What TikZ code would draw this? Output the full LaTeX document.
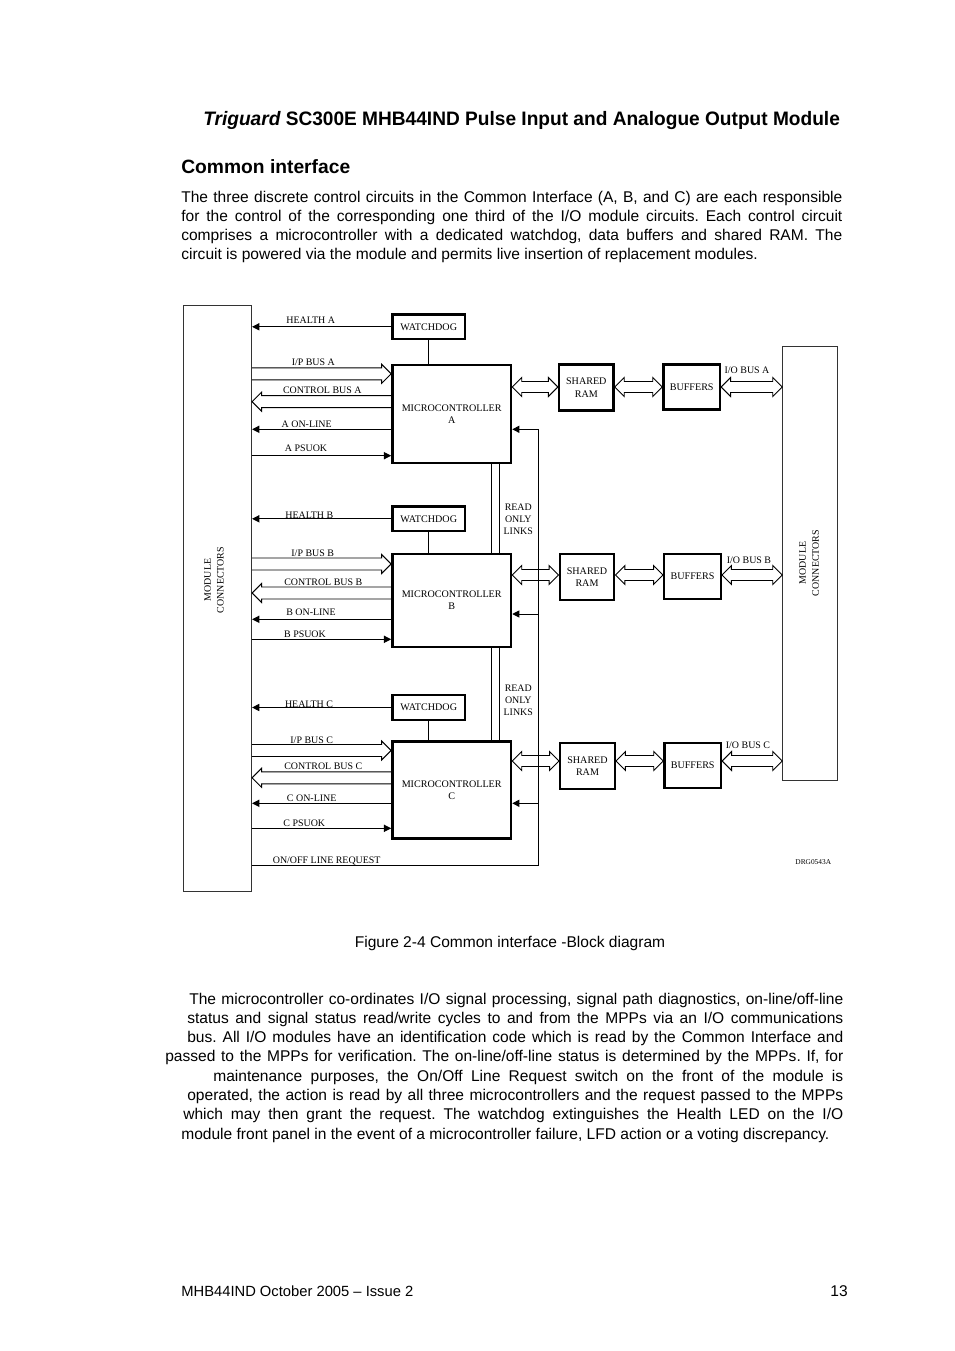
\documentclass[tikz,border=0pt]{standalone}
\usepackage{graphicx}
\usepackage{fontspec}
\setmainfont{Liberation Sans}
\newfontfamily\drgfont{Liberation Serif}
\usepackage{tikz}
\usetikzlibrary{positioning,arrows.meta,calc}
\frenchspacing

\newcommand{\pxu}{0.6237pt}
% hollow one-way bus arrow: tail, tip, head offset
\newcommand{\busarrow}[3]{%
  \draw[bus] ($(#1)+(0,-6)$) -- ($(#2)+(#3,-6)$) -- ($(#2)+(#3,-9.5)$) -- (#2)
    -- ($(#2)+(#3,9.5)$) -- ($(#2)+(#3,6)$) -- ($(#1)+(0,6)$);}
% hollow two-way bus arrow between two tips
\newcommand{\dbusarrow}[2]{%
  \draw[bus] (#1) -- ($(#1)+(9.5,-9.5)$) -- ($(#1)+(9.5,-5.5)$) -- ($(#2)+(-9.5,-5.5)$)
    -- ($(#2)+(-9.5,-9.5)$) -- (#2) -- ($(#2)+(-9.5,9.5)$) -- ($(#2)+(-9.5,5.5)$)
    -- ($(#1)+(9.5,5.5)$) -- ($(#1)+(9.5,9.5)$) -- cycle;}

\begin{document}
\begin{tikzpicture}[
    x=0.6237pt, y=-0.6237pt,
    box/.style={
        rectangle,
        draw,
        line width=1.5pt,
        align=center,
        inner sep=0pt,
        font=\drgfont\fontsize{6.3}{7.7}\selectfont
    },
    watchdog/.style={box, minimum width=72.7*\pxu, minimum height=24.5*\pxu},
    micro/.style={box, minimum width=118.7*\pxu},
    ram/.style={box, minimum width=54.5*\pxu, minimum height=46*\pxu},
    buffer/.style={box, minimum width=56.5*\pxu, minimum height=45*\pxu},
    conn/.style={rectangle, draw=black!80, line width=0.5pt, inner sep=0pt},
    lbl/.style={inner sep=0pt, align=center, font=\drgfont\fontsize{6.2}{7.5}\selectfont},
    sig/.style={line width=0.6pt},
    arrow/.style={sig, -{Triangle[length=4.5pt, width=4.5pt]}},
    bus/.style={line width=0.6pt, line join=miter},
    body/.style={anchor=base west, inner sep=0pt, font=\fontsize{9.7}{11.85}\selectfont}
]
\useasboundingbox (0,0) rectangle (954,1351);

% page text
\node[anchor=base west, inner sep=0pt] (title) at (203,126)
    {\resizebox{397pt}{8.8pt}{\fontsize{12}{14}\selectfont\bfseries{\itshape Triguard} SC300E MHB44IND Pulse Input and Analogue Output Module}};
\node[anchor=base west, inner sep=0pt, font=\fontsize{12}{14}\selectfont\bfseries] (head) at (181,174) {Common interface};
\node[body] (p1a) at (181,203) {\makebox[412.3pt][s]{The three discrete control circuits in the Common Interface (A, B, and C) are each responsible}};
\node[body] (p1b) at (181,222) {\makebox[412.3pt][s]{for the control of the corresponding one third of the I/O module circuits. Each control circuit}};
\node[body] (p1c) at (181,241) {\makebox[412.3pt][s]{comprises a microcontroller with a dedicated watchdog, data buffers and shared RAM. The}};
\node[body] (p1d) at (181,260) {circuit is powered via the module and permits live insertion of replacement modules.};

% connectors
\node[conn, minimum width=68.4*\pxu, minimum height=586.7*\pxu] (leftmc) at (217.5,598.3) {};
\node[conn, minimum width=54.3*\pxu, minimum height=433.3*\pxu] (rightmc) at (809.8,563.4) {};
\node[lbl, rotate=90] (leftmctxt) at (214,580) {MODULE\\[0.6pt]CONNECTORS};
\node[lbl, rotate=90] (rightmctxt) at (809,563) {MODULE\\[0.6pt]CONNECTORS};

% channel A
\node[watchdog] (wdA) at (428.7,326.8) {WATCHDOG};
\node[micro, minimum height=98*\pxu] (mcA) at (451.7,414.2) {MICROCONTROLLER\\A};
\node[ram] (ramA) at (586.3,387.7) {SHARED\\RAM};
\node[buffer] (bufA) at (691.7,387.2) {BUFFERS};

% channel B
\node[watchdog] (wdB) at (428.7,518.8) {WATCHDOG};
\node[micro, minimum height=93*\pxu] (mcB) at (451.7,600.3) {MICROCONTROLLER\\B};
\node[ram] (ramB) at (587,577) {SHARED\\RAM};
\node[buffer] (bufB) at (692.5,576.7) {BUFFERS};

% channel C
\node[watchdog] (wdC) at (428.7,707.5) {WATCHDOG};
\node[micro, minimum height=97*\pxu] (mcC) at (451.7,790) {MICROCONTROLLER\\C};
\node[ram] (ramC) at (587.5,766) {SHARED\\RAM};
\node[buffer] (bufC) at (692.7,765.5) {BUFFERS};

% signal levels
\coordinate (ipA) at (0,373.8);
\coordinate (ctA) at (0,401.7);
\coordinate (onA) at (0,429.3);
\coordinate (psA) at (0,455.7);
\coordinate (ioA) at (0,387);
\coordinate (ipB) at (0,564);
\coordinate (ctB) at (0,593);
\coordinate (onB) at (0,619.3);
\coordinate (psB) at (0,639.3);
\coordinate (ioB) at (0,575);
\coordinate (rqB) at (0,614);
\coordinate (ipC) at (0,750.5);
\coordinate (ctC) at (0,777.8);
\coordinate (onC) at (0,803.3);
\coordinate (psC) at (0,828.3);
\coordinate (ioC) at (0,761);
\coordinate (req) at (538.5,865);

% channel A links
\draw[arrow] (wdA.west) -- (wdA.west -| leftmc.east);
\draw[sig] (wdA.south) -- (wdA.south |- mcA.north);
\busarrow{ipA -| leftmc.east}{ipA -| mcA.west}{-9.5}
\busarrow{ctA -| mcA.west}{ctA -| leftmc.east}{9.5}
\draw[arrow] (onA -| mcA.west) -- (onA -| leftmc.east);
\draw[arrow] (psA -| leftmc.east) -- (psA -| mcA.west);
\dbusarrow{ioA -| mcA.east}{ioA -| ramA.west}
\dbusarrow{ioA -| ramA.east}{ioA -| bufA.west}
\dbusarrow{ioA -| bufA.east}{ioA -| rightmc.west}

% channel B links
\draw[arrow] (wdB.west) -- (wdB.west -| leftmc.east);
\draw[sig] (wdB.south) -- (wdB.south |- mcB.north);
\busarrow{ipB -| leftmc.east}{ipB -| mcB.west}{-9.5}
\busarrow{ctB -| mcB.west}{ctB -| leftmc.east}{9.5}
\draw[arrow] (onB -| mcB.west) -- (onB -| leftmc.east);
\draw[arrow] (psB -| leftmc.east) -- (psB -| mcB.west);
\dbusarrow{ioB -| mcB.east}{ioB -| ramB.west}
\dbusarrow{ioB -| ramB.east}{ioB -| bufB.west}
\dbusarrow{ioB -| bufB.east}{ioB -| rightmc.west}

% channel C links
\draw[arrow] (wdC.west) -- (wdC.west -| leftmc.east);
\draw[sig] (wdC.south) -- (wdC.south |- mcC.north);
\busarrow{ipC -| leftmc.east}{ipC -| mcC.west}{-9.5}
\busarrow{ctC -| mcC.west}{ctC -| leftmc.east}{9.5}
\draw[arrow] (onC -| mcC.west) -- (onC -| leftmc.east);
\draw[arrow] (psC -| leftmc.east) -- (psC -| mcC.west);
\dbusarrow{ioC -| mcC.east}{ioC -| ramC.west}
\dbusarrow{ioC -| ramC.east}{ioC -| bufC.west}
\dbusarrow{ioC -| bufC.east}{ioC -| rightmc.west}

% read only links
\draw[sig] ($(mcA.south east)+(-20.3,0)$) -- ($(mcB.north east)+(-20.3,0)$);
\draw[sig] ($(mcA.south east)+(-12.7,0)$) -- ($(mcB.north east)+(-12.7,0)$);
\draw[sig] ($(mcB.south east)+(-20.3,0)$) -- ($(mcC.north east)+(-20.3,0)$);
\draw[sig] ($(mcB.south east)+(-12.7,0)$) -- ($(mcC.north east)+(-12.7,0)$);

% on/off line request
\draw[sig] (req -| leftmc.east) -- (req) -- (req |- onA);
\draw[arrow] (onA -| req) -- (onA -| mcA.east);
\draw[arrow] (rqB -| req) -- (rqB -| mcB.east);
\draw[arrow] (onC -| req) -- (onC -| mcC.east);

% labels
\node[lbl] (lhA) at (310.7,320.7) {HEALTH A};
\node[lbl] (lipA) at (313.3,362.7) {I/P BUS A};
\node[lbl] (lctA) at (322.3,390.7) {CONTROL BUS A};
\node[lbl] (lonA) at (306.7,424) {A ON-LINE};
\node[lbl] (lpsA) at (306,448.3) {A PSUOK};
\node[lbl] (lioA) at (747,370.7) {I/O BUS A};
\node[lbl] (lhB) at (309.3,515) {HEALTH B};
\node[lbl] (lipB) at (312.7,553.3) {I/P BUS B};
\node[lbl] (lctB) at (323.3,582.7) {CONTROL BUS B};
\node[lbl] (lonB) at (311,612.7) {B ON-LINE};
\node[lbl] (lpsB) at (305,634) {B PSUOK};
\node[lbl] (lioB) at (749,560.7) {I/O BUS B};
\node[lbl] (lhC) at (309,704) {HEALTH C};
\node[lbl] (lipC) at (311.7,740) {I/P BUS C};
\node[lbl] (lctC) at (323.3,766) {CONTROL BUS C};
\node[lbl] (lonC) at (311.7,798.3) {C ON-LINE};
\node[lbl] (lpsC) at (304.3,823.3) {C PSUOK};
\node[lbl] (lioC) at (748,745.5) {I/O BUS C};
\node[lbl] (lroAB) at (518.3,519.3) {READ\\ONLY\\LINKS};
\node[lbl] (lroBC) at (518.3,700.7) {READ\\ONLY\\LINKS};
\node[lbl] (lreq) at (326.7,861) {ON/OFF LINE REQUEST};
\node[lbl, font=\drgfont\fontsize{4.6}{5}\selectfont] (drg) at (813.3,861.7) {DRG0543A};

% caption and text below
\node[anchor=base, inner sep=0pt, font=\fontsize{9.7}{11.85}\selectfont] (caption) at (510,947) {Figure 2-4 Common interface -Block diagram};
\node[body] (p2a) at (189,1004) {\makebox[407.9pt][s]{The microcontroller co-ordinates I/O signal processing, signal path diagnostics, on-line/off-line}};
\node[body] (p2b) at (187,1023) {\makebox[409.1pt][s]{status and signal status read/write cycles to and from the MPPs via an I/O communications}};
\node[body] (p2c) at (187,1042) {\makebox[409.1pt][s]{bus. All I/O modules have an identification code which is read by the Common Interface and}};
\node[body] (p2d) at (165,1061) {\makebox[422.9pt][s]{passed to the MPPs for verification. The on-line/off-line status is determined by the MPPs. If, for}};
\node[body] (p2e) at (213,1081) {\makebox[392.9pt][s]{maintenance purposes, the On/Off Line Request switch on the front of the module is}};
\node[body] (p2f) at (187,1100) {\makebox[409.1pt][s]{operated, the action is read by all three microcontrollers and the request passed to the MPPs}};
\node[body] (p2g) at (183,1119) {\makebox[411.6pt][s]{which may then grant the request. The watchdog extinguishes the Health LED on the I/O}};
\node[body] (p2h) at (181,1139) {module front panel in the event of a microcontroller failure, LFD action or a voting discrepancy.};

% footer
\node[body, font=\fontsize{9.2}{11}\selectfont] (foot) at (181,1296) {MHB44IND October 2005 -- Issue 2};
\node[anchor=base east, inner sep=0pt, font=\fontsize{9.7}{11.85}\selectfont] (pageno) at (848,1296) {13};

\end{tikzpicture}
\end{document}
